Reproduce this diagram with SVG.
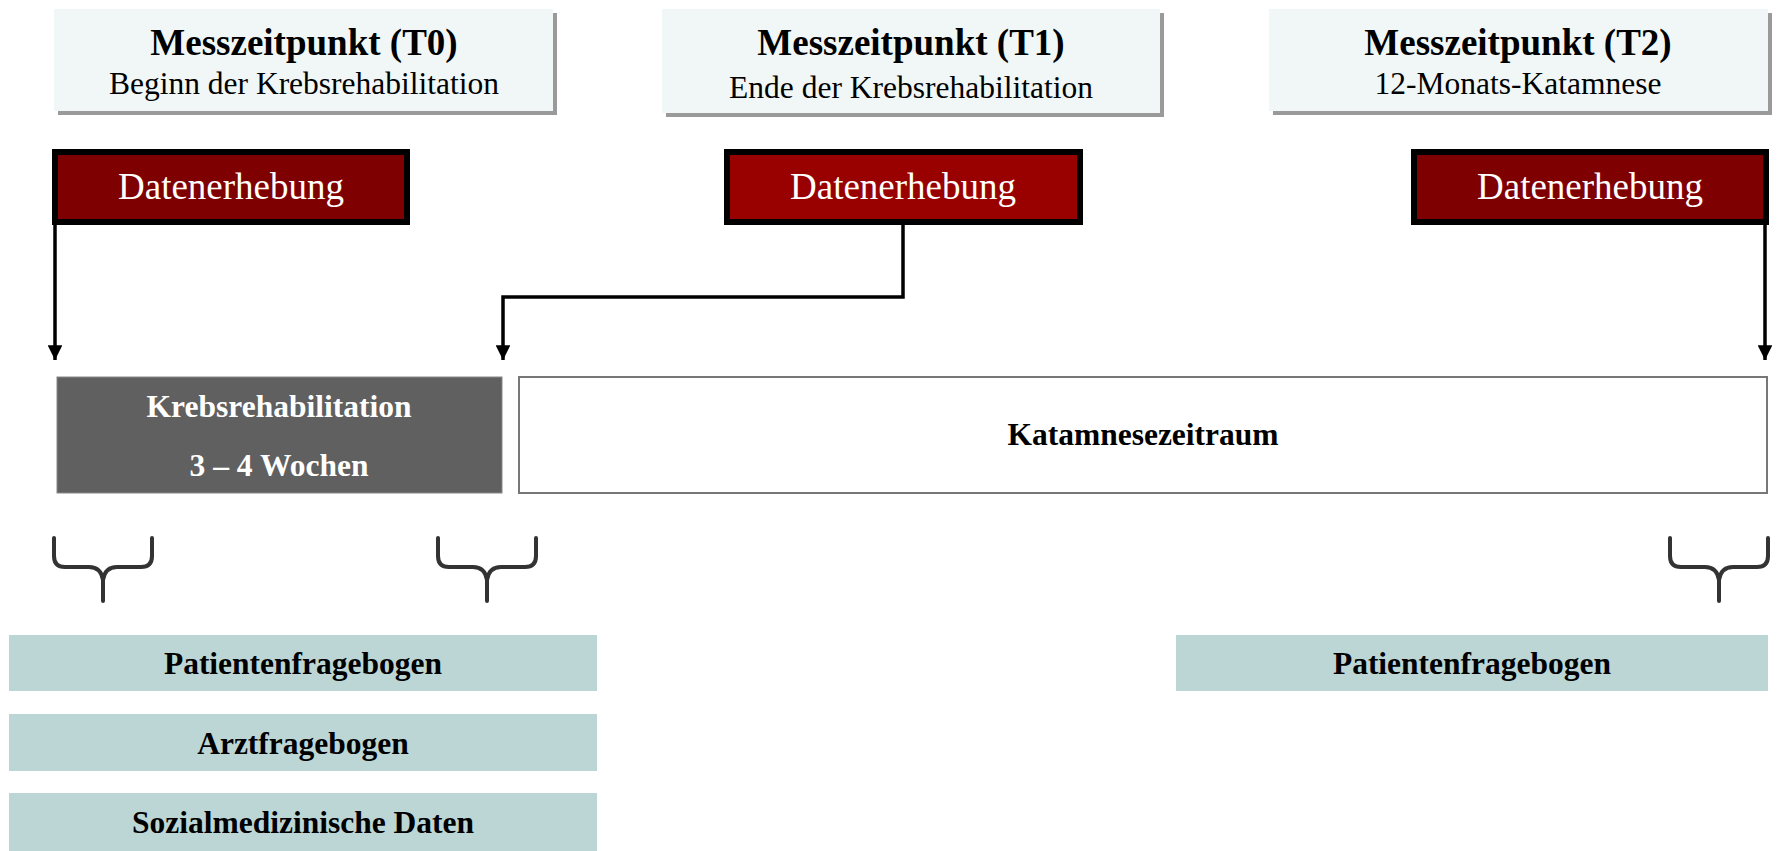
<svg xmlns="http://www.w3.org/2000/svg" width="1777" height="851" viewBox="0 0 1777 851">
<style>
.hdr{fill:#f1f7f7}
.shd{fill:#9a9a9a}
.t1{font-family:"Liberation Serif",serif;font-weight:bold;font-size:37px;fill:#000;text-anchor:middle}
.t2{font-family:"Liberation Serif",serif;font-size:31.5px;fill:#000;text-anchor:middle}
.de{stroke:#000;stroke-width:6}
.det{font-family:"Liberation Serif",serif;font-size:37px;fill:#fff;text-anchor:middle}
.lb{font-family:"Liberation Serif",serif;font-weight:bold;font-size:31.5px;text-anchor:middle}
.bx{fill:#bcd6d6}
.con{fill:none;stroke:#000;stroke-width:3.5}
.br{fill:none;stroke:#333;stroke-width:4;stroke-linecap:round}
</style>
<defs>
<marker id="ah" viewBox="0 0 10 10" refX="10" refY="5" markerWidth="4.2" markerHeight="4.2" orient="auto" markerUnits="strokeWidth">
<path d="M0,0 L10,5 L0,10 z" fill="#000"/>
</marker>
</defs>
<rect width="1777" height="851" fill="#fff"/>

<g id="t0-header">
<rect class="shd" x="58" y="13" width="499" height="102"/>
<rect class="hdr" x="54" y="9" width="499" height="102"/>
<text class="t1" x="304" y="55">Messzeitpunkt (T0)</text>
<text class="t2" x="304" y="94">Beginn der Krebsrehabilitation</text>
</g>
<g id="t1-header">
<rect class="shd" x="666" y="13" width="498" height="104"/>
<rect class="hdr" x="662" y="9" width="498" height="104"/>
<text class="t1" x="911" y="55">Messzeitpunkt (T1)</text>
<text class="t2" x="911" y="98">Ende der Krebsrehabilitation</text>
</g>
<g id="t2-header">
<rect class="shd" x="1273" y="13" width="499" height="102"/>
<rect class="hdr" x="1269" y="9" width="499" height="102"/>
<text class="t1" x="1518" y="55">Messzeitpunkt (T2)</text>
<text class="t2" x="1518" y="94">12-Monats-Katamnese</text>
</g>

<g id="t0-daten">
<rect class="de" x="55" y="152" width="352" height="70" fill="#7f0000"/>
<text class="det" x="231" y="199">Datenerhebung</text>
</g>
<g id="t1-daten">
<rect class="de" x="727" y="152" width="353" height="70" fill="#990000"/>
<text class="det" x="903" y="199">Datenerhebung</text>
</g>
<g id="t2-daten">
<rect class="de" x="1414" y="152" width="352" height="70" fill="#7f0000"/>
<text class="det" x="1590" y="199">Datenerhebung</text>
</g>

<g id="connectors">
<path class="con" d="M55,225 V360" marker-end="url(#ah)"/>
<path class="con" d="M903,225 V297 H503 V360" marker-end="url(#ah)"/>
<path class="con" d="M1765,225 V360" marker-end="url(#ah)"/>
</g>

<g id="krebsreha">
<rect x="57" y="377" width="445" height="116" fill="#606060" stroke="#888" stroke-width="1"/>
<text class="lb" x="279" y="417" fill="#fff">Krebsrehabilitation</text>
<text class="lb" x="279" y="476" fill="#fff">3 – 4 Wochen</text>
</g>
<g id="katamnese">
<rect x="519" y="377" width="1248" height="116" fill="#fff" stroke="#777" stroke-width="2"/>
<text class="lb" x="1143" y="445" fill="#000">Katamnesezeitraum</text>
</g>

<g id="brace-t0">
<path class="br" d="M54,538 V556 Q54,567 65,567 H89 Q101,567 103,580 V601 M152,538 V556 Q152,567 141,567 H117 Q105,567 103,580"/>
</g>
<g id="brace-t1">
<path class="br" d="M438,538 V556 Q438,567 449,567 H473 Q485,567 487,580 V601 M536,538 V556 Q536,567 525,567 H501 Q489,567 487,580"/>
</g>
<g id="brace-t2">
<path class="br" d="M1670,538 V556 Q1670,567 1681,567 H1705 Q1717,567 1719,580 V601 M1768,538 V556 Q1768,567 1757,567 H1733 Q1721,567 1719,580"/>
</g>

<g id="pat-t0">
<rect class="bx" x="9" y="635" width="588" height="56"/>
<text class="lb" x="303" y="674" fill="#000">Patientenfragebogen</text>
</g>
<g id="arzt-t0">
<rect class="bx" x="9" y="714" width="588" height="57"/>
<text class="lb" x="303" y="754" fill="#000">Arztfragebogen</text>
</g>
<g id="sozial-t0">
<rect class="bx" x="9" y="793" width="588" height="58"/>
<text class="lb" x="303" y="833" fill="#000">Sozialmedizinische Daten</text>
</g>
<g id="pat-t2">
<rect class="bx" x="1176" y="635" width="592" height="56"/>
<text class="lb" x="1472" y="674" fill="#000">Patientenfragebogen</text>
</g>
</svg>
